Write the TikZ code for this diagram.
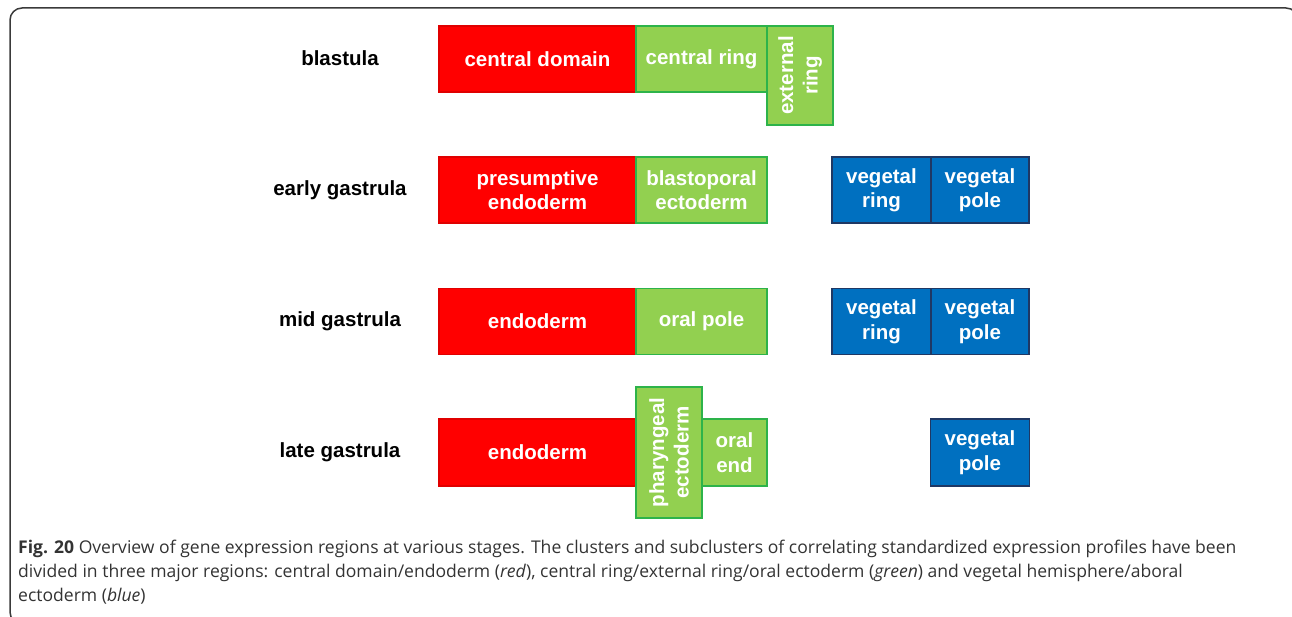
\documentclass[tikz,border=0pt]{standalone}
\usepackage{fontspec}
\setmainfont{Liberation Sans}
\newfontfamily\capfont{Open Sans}
\definecolor{rfill}{HTML}{FF0000}
\definecolor{rdraw}{HTML}{E00000}
\definecolor{gfill}{HTML}{92D050}
\definecolor{gdraw}{HTML}{2DB34A}
\definecolor{bfill}{HTML}{0070C0}
\definecolor{bdraw}{HTML}{1F3864}
\definecolor{framec}{HTML}{3A3A3A}
\definecolor{capc}{HTML}{333333}
\begin{document}
\begin{tikzpicture}[x=1pt,y=-1pt,
  region/.style={inner sep=0pt, outer sep=0pt, line width=1.6pt, text=white,
    font=\fontsize{20.5}{24.5}\selectfont\bfseries, align=center},
  redbox/.style={region, fill=rfill, draw=rdraw},
  greenbox/.style={region, fill=gfill, draw=gdraw},
  bluebox/.style={region, fill=bfill, draw=bdraw},
  stage/.style={font=\fontsize{20.5}{24}\selectfont\bfseries, text=black, inner sep=0pt},
  capline/.style={anchor=base west, inner sep=0pt, text=capc, font=\capfont\fontsize{17.55}{24}\selectfont},
  framestyle/.style={draw=framec, line width=1.5pt, rounded corners=12pt}]
\useasboundingbox (0,0) rectangle (1292,617);
\clip (0,0) rectangle (1292,617);
\draw[framestyle] (10,8) rectangle (1298,624);

% stage labels
\node[stage] (s1) at (340,58) {blastula};
\node[stage] (s2) at (340,190) {early gastrula};
\node[stage] (s3) at (340,321) {mid gastrula};
\node[stage] (s4) at (340,452) {late gastrula};

% blastula
\node[redbox, minimum width=197pt, minimum height=66pt] (cd) at (537.5,59) {central domain};
\node[greenbox, minimum width=131pt, minimum height=66pt] (cr) at (701.5,59) {central ring};
\node[greenbox, rotate=90, minimum width=99pt, minimum height=66pt] (er) at (800,75.5) {external\\ring};

% early gastrula
\node[redbox, minimum width=197pt, minimum height=66pt] (pe) at (537.5,190) {presumptive\\endoderm};
\node[greenbox, minimum width=131pt, minimum height=66pt] (be) at (701.5,190) {blastoporal\\ectoderm};
\node[bluebox, minimum width=99pt, minimum height=66pt] (vr1) at (881.5,190) {vegetal\\ring};
\node[bluebox, minimum width=98pt, minimum height=66pt] (vp1) at (980,190) {vegetal\\pole};

% mid gastrula
\node[redbox, minimum width=197pt, minimum height=66pt] (en2) at (537.5,321.5) {endoderm};
\node[greenbox, minimum width=131pt, minimum height=66pt] (op) at (701.5,321.5) {oral pole};
\node[bluebox, minimum width=99pt, minimum height=66pt] (vr2) at (881.5,321.5) {vegetal\\ring};
\node[bluebox, minimum width=98pt, minimum height=66pt] (vp2) at (980,321.5) {vegetal\\pole};

% late gastrula
\node[redbox, minimum width=197pt, minimum height=67pt] (en3) at (537.5,452.5) {endoderm};
\node[greenbox, minimum width=65pt, minimum height=67pt] (oe) at (734.5,452.5) {oral\\end};
\node[greenbox, rotate=90, minimum width=131pt, minimum height=66pt] (ph) at (669,452.5) {pharyngeal\\ectoderm};
\node[bluebox, minimum width=99pt, minimum height=67pt] (vp3) at (980,452.5) {vegetal\\pole};

% caption
\node[capline] (c1) at (18,553) {\textbf{Fig. 20} Overview of gene expression regions at various stages. The clusters and subclusters of correlating standardized expression profiles have been};
\node[capline] (c2) at (18,577) {divided in three major regions: central domain/endoderm (\textit{red}), central ring/external ring/oral ectoderm (\textit{green}) and vegetal hemisphere/aboral};
\node[capline] (c3) at (18,601) {ectoderm (\textit{blue})};
\end{tikzpicture}
\end{document}
